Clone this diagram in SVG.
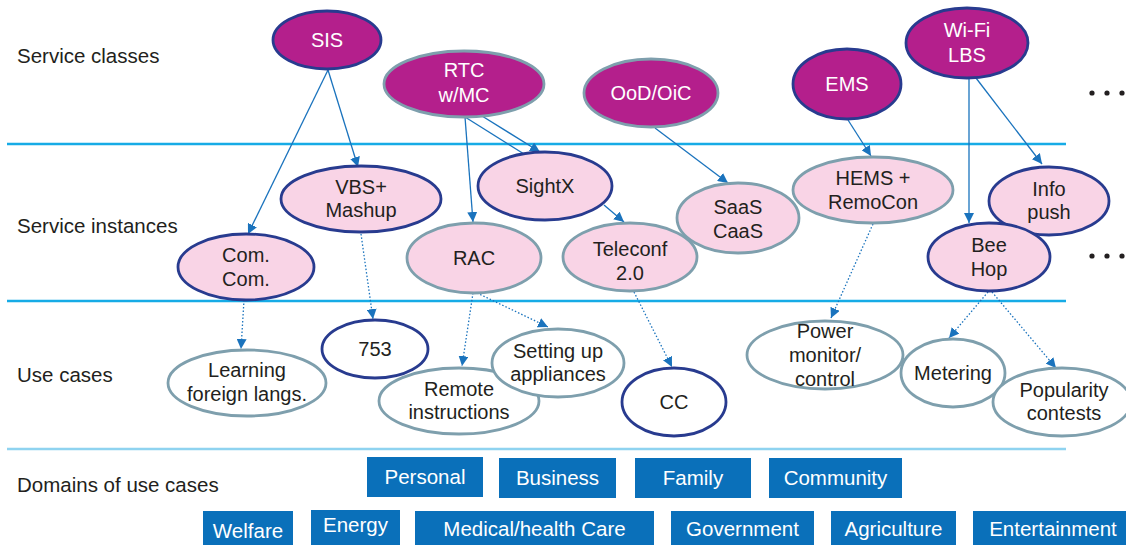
<svg xmlns="http://www.w3.org/2000/svg" width="1126" height="545" viewBox="0 0 1126 545">
  <style>
    text { font-family: "Liberation Sans", Arial, sans-serif; font-size: 20px; fill: #231f20; }
    .lbl { text-anchor: start; font-size: 20.5px; }
    .c { text-anchor: middle; }
    .w { fill: #ffffff; }
    .sep { stroke: #16abe6; stroke-width: 2.4; }
    .sep2 { stroke: #8fd3f0; stroke-width: 2.4; }
    .cls { fill: #b41f8c; stroke-width: 2.8; }
    .inst { fill: #f9d4e6; stroke-width: 2.8; }
    .use { fill: #ffffff; stroke-width: 2.8; }
    .dk { stroke: #283b8f; }
    .gr { stroke: #7e9fad; }
    .solid { stroke: #1a73bd; stroke-width: 1.3; fill: none; marker-end: url(#ah); }
    .plain { stroke: #1a73bd; stroke-width: 1.3; fill: none; }
    .dot { stroke: #1a73bd; stroke-width: 1.3; fill: none; stroke-dasharray: 1.5 2; marker-end: url(#ah); }
    .dom rect { fill: #0a70ba; }
    .dom text { fill: #ffffff; font-size: 20.5px; text-anchor: middle; }
  </style>
  <defs>
    <marker id="ah" viewBox="0 0 10 10" refX="10" refY="5" markerWidth="10" markerHeight="10" markerUnits="userSpaceOnUse" orient="auto">
      <path d="M0,0 L10,5 L0,10 z" fill="#1a73bd"/>
    </marker>
  </defs>

  <rect width="1126" height="545" fill="#ffffff"/>

  <!-- layer separators -->
  <g id="separators">
    <line class="sep" x1="7" y1="144" x2="1066" y2="144"/>
    <line class="sep" x1="7" y1="301" x2="1066" y2="301"/>
    <line class="sep2" x1="7" y1="449" x2="1066" y2="449"/>
  </g>

  <!-- layer labels -->
  <g id="labels">
    <text class="lbl" x="17" y="63">Service classes</text>
    <text class="lbl" x="17" y="233">Service instances</text>
    <text class="lbl" x="17" y="382">Use cases</text>
    <text class="lbl" x="17" y="492">Domains of use cases</text>
  </g>

  <!-- connectors -->
  <g id="connectors">
    <line class="solid" x1="328" y1="70" x2="248" y2="234"/>
    <line class="solid" x1="328" y1="70" x2="358" y2="167"/>
    <line class="solid" x1="465" y1="117" x2="473" y2="222"/>
    <line class="solid" x1="482" y1="116" x2="540" y2="152"/>
    <line class="plain" x1="465" y1="117" x2="540" y2="164"/>
    <line class="solid" x1="604" y1="205" x2="624" y2="222"/>
    <line class="solid" x1="655" y1="128" x2="728" y2="183"/>
    <line class="solid" x1="848" y1="120" x2="871" y2="156"/>
    <line class="solid" x1="969" y1="78" x2="969" y2="223"/>
    <line class="solid" x1="976" y1="78" x2="1042" y2="164"/>

    <line class="dot" x1="244" y1="300" x2="241" y2="349"/>
    <line class="dot" x1="361" y1="234" x2="373" y2="319"/>
    <line class="dot" x1="473" y1="293" x2="462" y2="366"/>
    <line class="dot" x1="477" y1="293" x2="548" y2="327"/>
    <line class="dot" x1="634" y1="292" x2="672" y2="367"/>
    <line class="dot" x1="873" y1="224" x2="831" y2="318"/>
    <line class="dot" x1="988" y1="292" x2="949" y2="338"/>
    <line class="dot" x1="992" y1="292" x2="1056" y2="368"/>
  </g>

  <!-- service classes -->
  <g id="sis"><ellipse class="cls dk" cx="327" cy="40" rx="54" ry="29"/><text class="c w" x="327" y="47">SIS</text></g>
  <g id="rtc"><ellipse class="cls gr" cx="464" cy="84" rx="80" ry="33"/><text class="c w" x="464" y="77">RTC</text><text class="c w" x="464" y="102">w/MC</text></g>
  <g id="ood"><ellipse class="cls gr" cx="651" cy="93" rx="67" ry="34"/><text class="c w" x="651" y="100">OoD/OiC</text></g>
  <g id="ems"><ellipse class="cls dk" cx="847" cy="84" rx="54" ry="35"/><text class="c w" x="847" y="91">EMS</text></g>
  <g id="wifi"><ellipse class="cls dk" cx="967" cy="43" rx="61" ry="35"/><text class="c w" x="967" y="37">Wi-Fi</text><text class="c w" x="967" y="62">LBS</text></g>

  <!-- continuation marks -->
  <g id="more" fill="#231f20">
    <circle cx="1092" cy="93" r="2.6"/><circle cx="1107" cy="93" r="2.6"/><circle cx="1122" cy="93" r="2.6"/>
    <circle cx="1092" cy="256" r="2.6"/><circle cx="1107" cy="256" r="2.6"/><circle cx="1122" cy="256" r="2.6"/>
  </g>

  <!-- service instances -->
  <g id="vbs"><ellipse class="inst dk" cx="361" cy="199" rx="80" ry="33"/><text class="c" x="361" y="194">VBS+</text><text class="c" x="361" y="217">Mashup</text></g>
  <g id="sightx"><ellipse class="inst dk" cx="545" cy="186" rx="67" ry="34"/><text class="c" x="545" y="193">SightX</text></g>
  <g id="comcom"><ellipse class="inst dk" cx="246" cy="267" rx="68" ry="33"/><text class="c" x="246" y="262">Com.</text><text class="c" x="246" y="286">Com.</text></g>
  <g id="rac"><ellipse class="inst gr" cx="474" cy="258" rx="67" ry="35"/><text class="c" x="474" y="265">RAC</text></g>
  <g id="teleconf"><ellipse class="inst gr" cx="630" cy="257" rx="67" ry="34"/><text class="c" x="630" y="256">Teleconf</text><text class="c" x="630" y="280">2.0</text></g>
  <g id="saas"><ellipse class="inst gr" cx="738" cy="218" rx="61" ry="35"/><text class="c" x="738" y="214">SaaS</text><text class="c" x="738" y="238">CaaS</text></g>
  <g id="hems"><ellipse class="inst gr" cx="873" cy="190" rx="80" ry="33"/><text class="c" x="873" y="185">HEMS +</text><text class="c" x="873" y="209">RemoCon</text></g>
  <g id="infopush"><ellipse class="inst dk" cx="1049" cy="201" rx="60" ry="34"/><text class="c" x="1049" y="196">Info</text><text class="c" x="1049" y="219">push</text></g>
  <g id="beehop"><ellipse class="inst dk" cx="989" cy="257" rx="61" ry="34"/><text class="c" x="989" y="252">Bee</text><text class="c" x="989" y="276">Hop</text></g>

  <!-- use cases -->
  <g id="learning"><ellipse class="use gr" cx="247" cy="383" rx="79" ry="33"/><text class="c" x="247" y="377">Learning</text><text class="c" x="247" y="401">foreign langs.</text></g>
  <g id="n753"><ellipse class="use dk" cx="375" cy="349" rx="53" ry="29"/><text class="c" x="375" y="356">753</text></g>
  <g id="remote"><ellipse class="use gr" cx="459" cy="401" rx="80" ry="33"/><text class="c" x="459" y="396">Remote</text><text class="c" x="459" y="419">instructions</text></g>
  <g id="settingup"><ellipse class="use gr" cx="558" cy="363" rx="66" ry="34"/><text class="c" x="558" y="358">Setting up</text><text class="c" x="558" y="381">appliances</text></g>
  <g id="cc"><ellipse class="use dk" cx="674" cy="402" rx="52" ry="34"/><text class="c" x="674" y="409">CC</text></g>
  <g id="power"><ellipse class="use gr" cx="825" cy="355" rx="78" ry="34"/><text class="c" x="825" y="338">Power</text><text class="c" x="825" y="362">monitor/</text><text class="c" x="825" y="386">control</text></g>
  <g id="metering"><ellipse class="use gr" cx="953" cy="373" rx="52" ry="34"/><text class="c" x="953" y="380">Metering</text></g>
  <g id="popularity"><ellipse class="use gr" cx="1062" cy="402" rx="69" ry="34"/><text class="c" x="1064" y="397">Popularity</text><text class="c" x="1064" y="420">contests</text></g>

  <!-- domains of use cases -->
  <g id="domains" class="dom">
    <g id="d-personal"><rect x="367" y="457" width="116" height="40"/><text x="425" y="484">Personal</text></g>
    <g id="d-business"><rect x="499" y="458" width="117" height="40"/><text x="557.5" y="485">Business</text></g>
    <g id="d-family"><rect x="635" y="458" width="116" height="40"/><text x="693" y="485">Family</text></g>
    <g id="d-community"><rect x="769" y="458" width="133" height="40"/><text x="835.5" y="485">Community</text></g>
    <g id="d-welfare"><rect x="203" y="511" width="90" height="34"/><text x="248" y="538">Welfare</text></g>
    <g id="d-energy"><rect x="311" y="510" width="89" height="35"/><text x="355.5" y="532">Energy</text></g>
    <g id="d-medical"><rect x="415" y="511" width="239" height="34"/><text x="534.5" y="536">Medical/health Care</text></g>
    <g id="d-government"><rect x="671" y="511" width="143" height="34"/><text x="742.5" y="536">Government</text></g>
    <g id="d-agriculture"><rect x="831" y="511" width="125" height="34"/><text x="893.5" y="536">Agriculture</text></g>
    <g id="d-entertainment"><rect x="973" y="511" width="153" height="34"/><text x="1053" y="536">Entertainment</text></g>
  </g>
</svg>
